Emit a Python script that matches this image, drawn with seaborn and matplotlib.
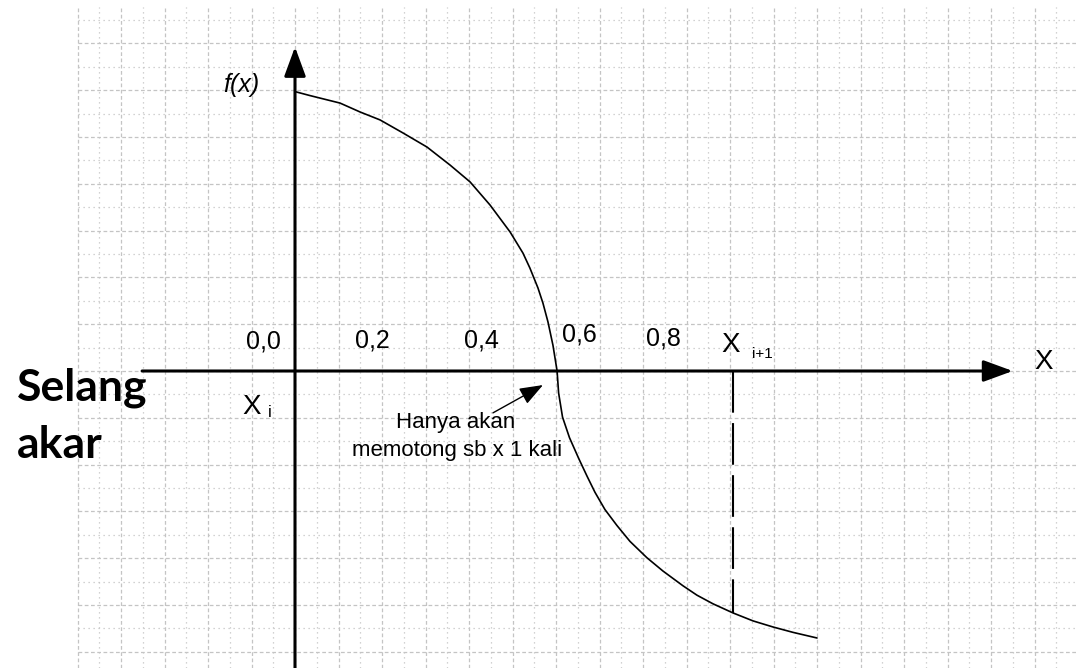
import matplotlib
matplotlib.use("Agg")
import matplotlib.pyplot as plt
import numpy as np
import pandas as pd
import seaborn as sns

# kurva f(x) (satuan = kotak grid)
curve_x = [0.0, 0.69, 2.07, 2.99, 3.91, 4.97, 6.07, 7.13, 8.05, 8.97, 9.89, 10.48,
           10.80, 11.17, 11.40, 11.63, 11.86, 12.05, 12.12, 12.30, 12.62, 13.05,
           13.43, 13.79, 14.25, 14.80, 15.40, 16.18, 16.92, 17.84, 18.48, 19.22,
           20.14, 21.06, 21.98, 22.90, 24.0]
curve_y = [11.94, 11.77, 11.45, 11.07, 10.73, 10.17, 9.57, 8.80, 8.08, 7.09, 5.94, 5.04,
           4.40, 3.55, 2.90, 2.10, 1.10, 0.0, -0.94, -1.97, -2.85, -3.75,
           -4.50, -5.18, -5.92, -6.60, -7.28, -7.98, -8.55, -9.18, -9.58, -9.95,
           -10.34, -10.68, -10.94, -11.17, -11.41]

tick_labels = ['0,0', '0,2', '0,4', '0,6', '0,8']
x_next = 20.14          # posisi X i+1
x_next_f = -10.34       # nilai kurva di X i+1

# tata letak teks
tick_pos_x = [-1.43, 3.54, 8.55, 13.06, 16.92]
tick_pos_y = [1.28, 1.32, 1.32, 1.58, 1.37]

xmin, xmax = -295 / 21.75, (1076 - 295) / 21.75
ymin, ymax = -(668 - 371) / 23.4, 371 / 23.4

sns.set_style("white")
plt.rcParams['font.family'] = ['Liberation Sans', 'DejaVu Sans']
plt.rcParams['text.color'] = 'black'

fig = plt.figure(figsize=(10.76, 6.68), dpi=100)
ax = fig.add_axes([0, 0, 1, 1])
ax.set_xlim(xmin, xmax)
ax.set_ylim(ymin, ymax)
ax.axis('off')

# grid kertas
grid_top = (371 - 7) / 23.4
for i, gx in enumerate(range(-10, 36)):
    ls = (0, (3, 2)) if i % 2 == 0 else (0, (1, 3))
    ax.plot([gx, gx], [ymin, grid_top], color='#c4c4c4', lw=0.9, ls=ls, zorder=0)
for i, gy in enumerate(range(-12, 16)):
    ls = (0, (3, 2)) if i % 2 == 0 else (0, (1, 3))
    ax.plot([-10, xmax], [gy, gy], color='#c4c4c4', lw=0.9, ls=ls, zorder=0)

# sumbu
arrow = dict(arrowstyle='-|>,head_length=0.9,head_width=0.33', color='black',
             lw=2.2, shrinkA=0, shrinkB=0, mutation_scale=20)
ax.annotate('', xy=(0, 13.85), xytext=(0, ymin - 1), arrowprops=arrow, zorder=3)
ax.annotate('', xy=(33.0, 0), xytext=(-7.03, 0), arrowprops=arrow, zorder=3)

# kurva
df = pd.DataFrame({'x': curve_x, 'y': curve_y})
sns.lineplot(data=df, x='x', y='y', sort=False, color='black', lw=1.2, ax=ax, zorder=4)

# garis putus-putus di X i+1
ax.plot([x_next, x_next], [0, x_next_f], color='black', lw=1.5,
        dashes=(20, 5), zorder=4)

# teks
for lab, tx, ty in zip(tick_labels, tick_pos_x, tick_pos_y):
    ax.text(tx, ty, lab, fontsize=18, ha='center', va='center')

ax.text(-2.48, 12.22, 'f(x)', fontsize=18, style='italic', ha='center', va='center')
ax.text(20.05, 1.11, 'X', fontsize=20, ha='center', va='center')
ax.text(21.47, 0.73, 'i+1', fontsize=11, ha='center', va='center')
ax.text(34.44, 0.38, 'X', fontsize=20, ha='center', va='center')
ax.text(-1.98, -1.54, 'X', fontsize=20, ha='center', va='center')
ax.text(-1.15, -1.79, 'i', fontsize=12, ha='center', va='center')

ax.text(7.40, -2.18, 'Hanya akan', fontsize=16, ha='center', va='center')
ax.text(7.45, -3.38, 'memotong sb x 1 kali', fontsize=16, ha='center', va='center')
ax.annotate('', xy=(11.40, -0.60), xytext=(9.10, -1.79),
            arrowprops=dict(arrowstyle='-|>,head_length=0.8,head_width=0.3',
                            color='black', lw=1.0, shrinkA=0, shrinkB=0,
                            mutation_scale=18), zorder=4)

ax.text(-12.78, -1.24, 'Selang', fontsize=32, fontweight='bold', family=['Lato', 'DejaVu Sans'],
        ha='left', va='baseline')
ax.text(-12.78, -3.72, 'akar', fontsize=32, fontweight='bold', family=['Lato', 'DejaVu Sans'],
        ha='left', va='baseline')

fig.savefig('out.png', dpi=100, facecolor='white')
